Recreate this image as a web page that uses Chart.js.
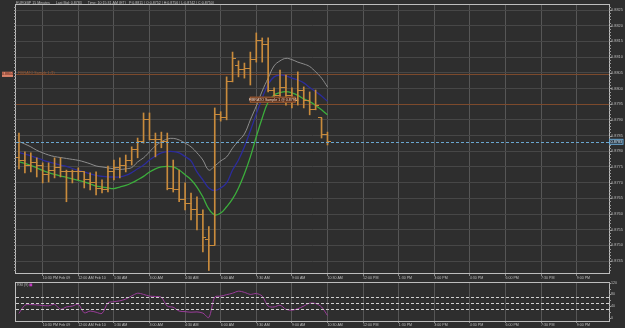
<!DOCTYPE html>
<html><head><meta charset="utf-8">
<script src="https://cdn.jsdelivr.net/npm/chart.js@4.4.1/dist/chart.umd.min.js"></script>
<style>
html,body{margin:0;padding:0;background:#2e2e2e;}
#wrap{position:relative;width:625px;height:328px;overflow:hidden;background:#2e2e2e;}
#main{position:absolute;left:0;top:0;}
#rsi{position:absolute;left:0;top:278px;}
</style></head><body>
<div id="wrap"><canvas id="main" width="625" height="283"></canvas><canvas id="rsi" width="625" height="50"></canvas></div>
<script>
// ---------- DATA ----------
const barSlots = [-4,-3,-2,-1,0,1,2,3,4,5,6,7,8,9,10,11,12,13,14,15,16,17,18,19,20,21,22,23,24,25,26,27,28,29,30,31,32,33,34,35,36,37,38,39,40,41,42,43,44,45,46,47,48];
const openP  = [0.87779,0.87772,0.87756,0.87763,0.87756,0.87725,0.87740,0.87747,0.87737,0.87734,0.87737,0.87734,0.87709,0.87699,0.87680,0.87677,0.87734,0.87747,0.87756,0.87772,0.87804,0.87830,0.87900,0.87839,0.87836,0.87830,0.87680,0.87677,0.87645,0.87632,0.87613,0.87600,0.8752,0.8750,0.87916,0.87909,0.88021,0.88072,0.88059,0.88065,0.88091,0.88154,0.88139,0.87995,0.87979,0.88002,0.87979,0.87963,0.87995,0.87963,0.87932,0.87906,0.87852];
const highP  = [0.87858,0.87798,0.87795,0.87779,0.87763,0.87763,0.87779,0.87779,0.87740,0.87740,0.87747,0.87734,0.87731,0.87734,0.87709,0.87753,0.87772,0.87779,0.87788,0.87814,0.87842,0.87922,0.87922,0.87858,0.87861,0.87858,0.87772,0.87740,0.87699,0.87667,0.87655,0.87613,0.8756,0.87938,0.87926,0.88037,0.88116,0.88088,0.88081,0.88116,0.88177,0.88161,0.88161,0.88002,0.88059,0.88043,0.88002,0.88053,0.88005,0.87989,0.87995,0.87906,0.87861];
const lowP   = [0.87744,0.87731,0.87734,0.87718,0.87699,0.87702,0.87715,0.87718,0.87639,0.87699,0.87709,0.87683,0.87677,0.87661,0.87667,0.87670,0.87709,0.87715,0.87734,0.87756,0.87779,0.87826,0.87836,0.87782,0.87811,0.87677,0.87670,0.87639,0.87613,0.87581,0.87549,0.87479,0.8742,0.87502,0.87896,0.87900,0.88021,0.88037,0.88033,0.88011,0.88084,0.88084,0.87989,0.87957,0.87970,0.87947,0.87938,0.87947,0.87938,0.87916,0.87932,0.87842,0.87820];
const closeP = [0.87772,0.87756,0.87763,0.87756,0.87725,0.87740,0.87747,0.87737,0.87734,0.87737,0.87734,0.87709,0.87699,0.87680,0.87677,0.87734,0.87747,0.87756,0.87772,0.87804,0.87830,0.87900,0.87839,0.87836,0.87830,0.87680,0.87677,0.87645,0.87632,0.87613,0.87600,0.87524,0.8750,0.87916,0.87909,0.88021,0.88097,0.88059,0.88065,0.88091,0.88154,0.88139,0.87995,0.87979,0.88002,0.87979,0.87963,0.87995,0.87963,0.87932,0.87947,0.87852,0.8783];
const maUpper = [0.87831,0.87823,0.87814,0.87803,0.87795,0.87788,0.87783,0.87780,0.87777,0.87774,0.87771,0.87766,0.87760,0.87753,0.87750,0.87747,0.87744,0.87742,0.87744,0.87748,0.87766,0.87779,0.87798,0.87817,0.87830,0.87839,0.87841,0.87836,0.87826,0.87814,0.87795,0.87772,0.87740,0.87753,0.87769,0.87782,0.87810,0.87833,0.87855,0.87900,0.87944,0.87992,0.88033,0.88072,0.88088,0.88096,0.88092,0.88084,0.88078,0.88070,0.88053,0.88033,0.88005];
const maMiddle = [0.87796,0.87791,0.87785,0.87779,0.87772,0.87766,0.87761,0.87756,0.87752,0.87745,0.87739,0.87734,0.87728,0.87723,0.87720,0.87718,0.87718,0.87718,0.87723,0.87732,0.87744,0.87756,0.87772,0.87785,0.87795,0.87799,0.87799,0.87795,0.87783,0.87769,0.87734,0.87709,0.87683,0.87675,0.87683,0.87699,0.87740,0.87772,0.87814,0.87865,0.87919,0.87970,0.88014,0.88037,0.88043,0.88040,0.88033,0.88027,0.88018,0.88003,0.87990,0.87976,0.87959];
const maLower = [0.87767,0.87761,0.87755,0.87747,0.87739,0.87732,0.87726,0.87721,0.87717,0.87712,0.87707,0.87702,0.87696,0.87689,0.87686,0.87683,0.87681,0.87686,0.87691,0.87699,0.87709,0.87720,0.87734,0.87744,0.87750,0.87752,0.87750,0.87740,0.87725,0.87709,0.87686,0.87654,0.87616,0.87597,0.87603,0.87623,0.87648,0.87683,0.87728,0.87782,0.87846,0.87906,0.87957,0.87979,0.87987,0.87990,0.87986,0.87978,0.87967,0.87958,0.87946,0.87932,0.87916];
const rsiValues = [15,43,45,44,42,41,46,29,37,40,46,17,23,19,15,51,55,58,64,75,84,80,74,73,70,40,36,23,21,19,20,16,1,71,74,79,84,91,87,80,83,74,40,37,43,29,26,31,40,50,49,37,8];
const xTickValues = [0,6,12,18,24,30,36,42,48,54,60,66,72,78,84,90];
const xTickLabels = ["10:30 PM Feb 09","12:00 AM Feb 10","1:30 AM","3:00 AM","4:30 AM","6:00 AM","7:30 AM","9:00 AM","10:30 AM","12:00 PM","1:30 PM","3:00 PM","4:30 PM","6:00 PM","7:30 PM","9:00 PM"];
const priceTicks = [0.8745,0.8750,0.8755,0.8760,0.8765,0.8770,0.8775,0.8780,0.8785,0.8790,0.8795,0.8800,0.8805,0.8810,0.8815,0.8820,0.8825];
const rsiTicks = [0,20,40,60,80,100,120];
const rsiLevels = [70,50,30];
const levelLines = [0.88045,0.8795];
const levelTexts = ["FIBRATO Sample 1 (1)","FIBRATO Sample 1 @ 0.8795"];
const leftLevelLabel = "0.8804";
const lastBid = 0.8783;
const lastBidLabel = "0.8783";
const titleText = "EURGBP 15 Minutes      Last Bid: 0.8783      Time: 10:15:31 AM (ET)   P:0.8811 | O:0.8752 | H:0.8756 | L:0.8742 | C:0.8750)";
const rsiName = "RSI (9)";

// ---------- STYLE ----------
const FONT = '"Liberation Sans", Arial, sans-serif';
const BAR = '#c98b3c';
const TXT = '#bdbdbd';
function tickImage(side){
  const c=document.createElement('canvas'); c.width=7; c.height=1;
  const g=c.getContext('2d'); g.fillStyle=BAR;
  if(side<0) g.fillRect(0,0,4,1); else g.fillRect(3,0,4,1);
  return c;
}
const xy = arr => barSlots.map((x,i)=>({x, y:arr[i]}));

function xScaleCfg(h, tl){
  return {
    type:'linear', min:-4.5, max:95.45, offset:false,
    afterBuildTicks: s=>{ s.ticks = xTickValues.map(v=>({value:v})); },
    afterFit: s=>{ s.height=h; },
    grid:{color:'#565656', lineWidth:1, tickLength:tl, tickColor:'#8a8a8a', offset:false},
    border:{display:false},
    ticks:{autoSkip:false, maxRotation:0, minRotation:0, align:'start', padding:0, color:TXT,
      font:{family:FONT,size:3.6},
      callback:(v)=>{ const i=xTickValues.indexOf(v); return i>=0 ? xTickLabels[i] : ''; }}
  };
}

function frame(ctx,a){
  ctx.strokeStyle='#bdbdbd'; ctx.lineWidth=1; ctx.setLineDash([]);
  ctx.strokeRect(Math.round(a.left)-0.5, Math.round(a.top)-0.5, Math.round(a.right)-Math.round(a.left)+1, Math.round(a.bottom)-Math.round(a.top)+1);
}

const mainDeco = {
  id:'mainDeco',
  beforeDatasetsDraw(chart){
    const {ctx, chartArea:a, scales:{y}} = chart;
    ctx.save();
    ctx.strokeStyle='#7d4a2c'; ctx.lineWidth=1;
    levelLines.forEach(v=>{ const py=Math.round(y.getPixelForValue(v))+0.5; ctx.beginPath(); ctx.moveTo(a.left,py); ctx.lineTo(a.right,py); ctx.stroke(); });
    ctx.restore();
  },
  afterDatasetsDraw(chart){
    const {ctx, chartArea:a, scales:{x,y}} = chart;
    ctx.save();
    const pb = Math.round(y.getPixelForValue(lastBid))+0.5;
    ctx.strokeStyle='#6aa6cf'; ctx.lineWidth=1; ctx.setLineDash([3,2]);
    ctx.beginPath(); ctx.moveTo(a.left,pb); ctx.lineTo(a.right,pb); ctx.stroke();
    ctx.setLineDash([]);
    frame(ctx,a);
    ctx.strokeStyle='#9a9a9a';
    for(let v=0.8742; v<=0.88265; v+=0.0001){
      const py=Math.round(y.getPixelForValue(v))+0.5;
      ctx.beginPath(); ctx.moveTo(a.right,py); ctx.lineTo(a.right+2,py); ctx.moveTo(a.left-2,py); ctx.lineTo(a.left,py); ctx.stroke();
    }
    priceTicks.forEach(v=>{ const py=Math.round(y.getPixelForValue(v))+0.5; ctx.beginPath(); ctx.moveTo(a.right,py); ctx.lineTo(a.right+3,py); ctx.stroke(); });
    const p1 = y.getPixelForValue(levelLines[0]);
    ctx.fillStyle='#d9826a'; ctx.fillRect(2, p1-2.6, 11, 5.2);
    ctx.fillStyle='#4a1408'; ctx.font='3.6px '+FONT; ctx.textBaseline='middle'; ctx.textAlign='center';
    ctx.fillText(leftLevelLabel, 7.5, p1);
    ctx.fillStyle='#a35a30'; ctx.textAlign='left';
    ctx.fillText(levelTexts[0], a.left+2, p1-1.5);
    const p2 = y.getPixelForValue(levelLines[1]);
    const bx = x.getPixelForValue(34.9);
    ctx.fillStyle='#4e2a1a'; ctx.fillRect(bx, p2-7.5, 46, 6);
    ctx.strokeStyle='#a8643a'; ctx.strokeRect(bx+0.5, p2-7, 45, 5);
    ctx.fillStyle='#f0d6c4'; ctx.textAlign='center';
    ctx.fillText(levelTexts[1], bx+23, p2-4.4);
    const pl = y.getPixelForValue(lastBid);
    ctx.fillStyle='#2d3b48'; ctx.fillRect(a.right, pl-3, 14, 6);
    ctx.strokeStyle='#6aa6cf'; ctx.strokeRect(a.right+0.5, pl-2.5, 13.5, 5);
    ctx.fillStyle='#cfe4f2'; ctx.textAlign='left'; ctx.font='3.8px '+FONT;
    ctx.fillText(lastBidLabel, a.right+1.5, pl+0.3);
    ctx.restore();
  }
};

new Chart(document.getElementById('main'), {
  data:{ datasets:[
    {type:'bar', data: barSlots.map((x,i)=>({x, y:[lowP[i],highP[i]]})), backgroundColor:BAR, barThickness:1, grouped:false, order:0},
    {type:'scatter', data: xy(openP), pointStyle: tickImage(-1), pointRadius:2, showLine:false, order:0},
    {type:'scatter', data: xy(closeP), pointStyle: tickImage(1), pointRadius:2, showLine:false, order:0},
    {type:'line', data: xy(maUpper), borderColor:'#8e8e8e', borderWidth:1, pointRadius:0, tension:0.4, fill:false, order:1},
    {type:'line', data: xy(maMiddle), borderColor:'#2c2c9c', borderWidth:1.3, pointRadius:0, tension:0.4, fill:false, order:1},
    {type:'line', data: xy(maLower), borderColor:'#3cae3c', borderWidth:1.3, pointRadius:0, tension:0.4, fill:false, order:1}
  ]},
  options:{
    responsive:false, animation:false, devicePixelRatio:1,
    layout:{padding:{left:16, top:0, right:0, bottom:0}},
    plugins:{legend:{display:false}, tooltip:{enabled:false},
      title:{display:true, text:titleText, align:'start', color:TXT, font:{family:FONT, size:3.6, weight:'normal', lineHeight:1}, padding:{top:1,bottom:0}}},
    scales:{
      x: xScaleCfg(10,3),
      y: {type:'linear', position:'right', min:0.87412, max:0.88266,
        afterBuildTicks: s=>{ s.ticks = priceTicks.map(v=>({value:v})); },
        afterFit: s=>{ s.width=16; },
        grid:{color:'#474747', drawTicks:false},
        border:{display:false},
        ticks:{padding:2, color:TXT, font:{family:FONT,size:3.9}, callback:v=>Number(v).toFixed(4)}}
    }
  },
  plugins:[mainDeco]
});

const rsiDeco = {
  id:'rsiDeco',
  afterDatasetsDraw(chart){
    const {ctx, chartArea:a, scales:{y}} = chart;
    ctx.save();
    ctx.strokeStyle='#d0d0d0'; ctx.lineWidth=1; ctx.setLineDash([3,2]);
    rsiLevels.forEach(v=>{ const py=Math.round(y.getPixelForValue(v))+0.5; ctx.beginPath(); ctx.moveTo(a.left,py); ctx.lineTo(a.right,py); ctx.stroke(); });
    ctx.setLineDash([]);
    frame(ctx,a);
    ctx.strokeStyle='#9a9a9a';
    rsiTicks.forEach(v=>{ const py=Math.round(y.getPixelForValue(v))+0.5; ctx.beginPath(); ctx.moveTo(a.right,py); ctx.lineTo(a.right+2,py); ctx.stroke(); });
    ctx.font='3.6px '+FONT; ctx.fillStyle=TXT; ctx.textBaseline='middle'; ctx.textAlign='left';
    ctx.fillText(rsiName, a.left+1, a.top+2.3);
    const w = ctx.measureText(rsiName).width;
    ctx.fillStyle='#c03cc0'; ctx.fillRect(a.left+2+w, a.top+0.8, 2.8, 2.8);
    ctx.restore();
  }
};

new Chart(document.getElementById('rsi'), {
  data:{ datasets:[
    {type:'line', data: xy(rsiValues), borderColor:'#9c3c9c', borderWidth:1, pointRadius:0, tension:0.3, fill:false}
  ]},
  options:{
    responsive:false, animation:false, devicePixelRatio:1,
    layout:{padding:{left:16, top:4.7, right:0, bottom:0}},
    plugins:{legend:{display:false}, tooltip:{enabled:false}},
    scales:{
      x: xScaleCfg(7,2),
      y: {type:'linear', position:'right', min:-11, max:120,
        afterBuildTicks: s=>{ s.ticks = rsiTicks.map(v=>({value:v})); },
        afterFit: s=>{ s.width=16; },
        grid:{display:false, drawTicks:false},
        border:{display:false},
        ticks:{padding:2, color:TXT, font:{family:FONT,size:3.6}}}
    }
  },
  plugins:[rsiDeco]
});
</script>
</body></html>
